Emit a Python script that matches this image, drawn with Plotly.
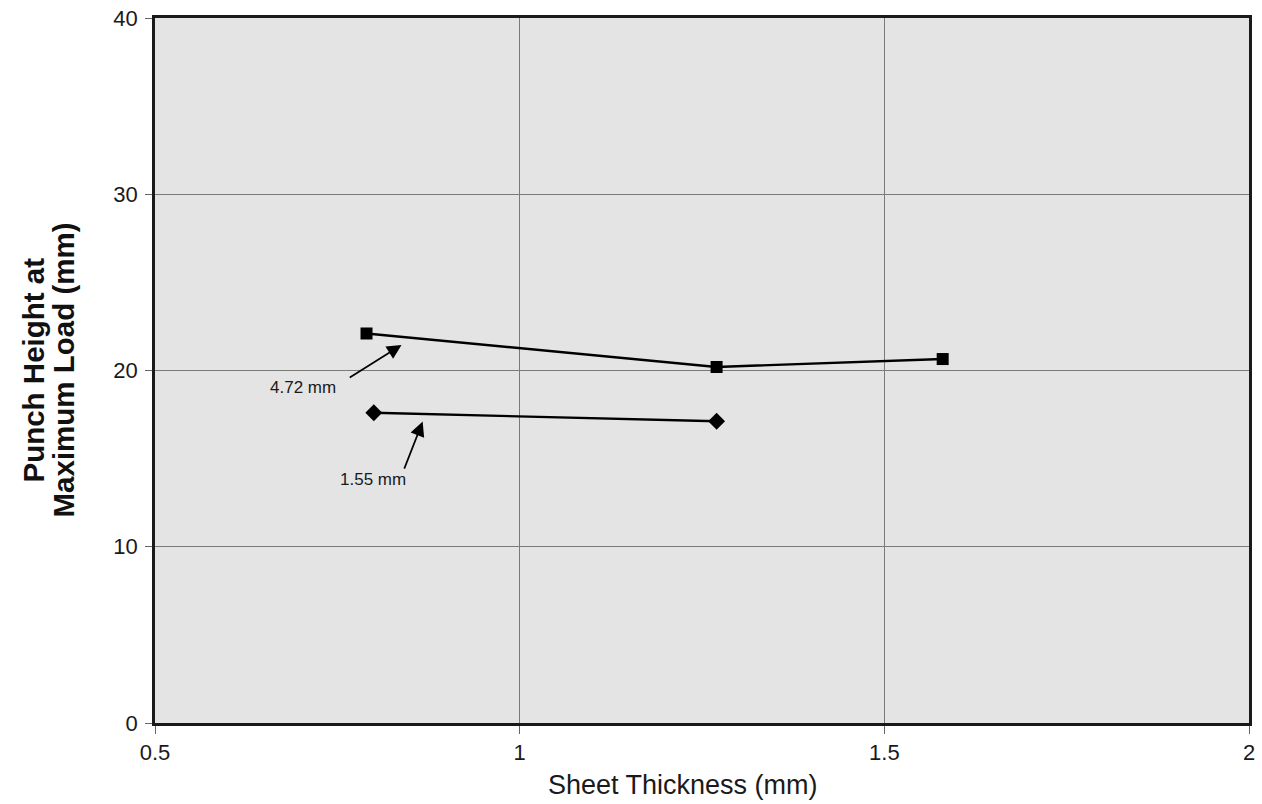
import plotly.graph_objects as go

# Data
thickness_472 = [0.79, 1.27, 1.58]
height_472 = [22.1, 20.2, 20.65]
thickness_155 = [0.80, 1.27]
height_155 = [17.6, 17.12]

x_ticks = [0.5, 1, 1.5, 2]
x_tick_labels = ["0.5", "1", "1.5", "2"]
y_ticks = [0, 10, 20, 30, 40]

FONT = "Liberation Sans, Arial, sans-serif"
TXT = "#1a1a1a"

fig = go.Figure()
fig.add_trace(go.Scatter(
    x=thickness_472, y=height_472, mode="lines+markers",
    line=dict(color="black", width=2.4),
    marker=dict(symbol="square", size=12, color="black"),
    name="4.72 mm", showlegend=False,
))
fig.add_trace(go.Scatter(
    x=thickness_155, y=height_155, mode="lines+markers",
    line=dict(color="black", width=2.4),
    marker=dict(symbol="diamond", size=13, color="black"),
    name="1.55 mm", showlegend=False,
))

# arrows and labels
fig.add_annotation(x=0.838, y=21.45, ax=0.765, ay=19.55, xref="x", yref="y",
                   axref="x", ayref="y", text="", showarrow=True,
                   arrowhead=2, arrowsize=1.7, arrowwidth=1.7, arrowcolor="black")
fig.add_annotation(x=0.703, y=19.05, xref="x", yref="y", text="4.72 mm",
                   showarrow=False, font=dict(family=FONT, size=17, color=TXT))
fig.add_annotation(x=0.867, y=17.1, ax=0.841, ay=14.35, xref="x", yref="y",
                   axref="x", ayref="y", text="", showarrow=True,
                   arrowhead=2, arrowsize=1.7, arrowwidth=1.7, arrowcolor="black")
fig.add_annotation(x=0.799, y=13.8, xref="x", yref="y", text="1.55 mm",
                   showarrow=False, font=dict(family=FONT, size=17, color=TXT))

# axis titles
fig.add_annotation(x=0.483, y=0, xref="paper", yref="paper", yanchor="middle",
                   yshift=-62, text="Sheet Thickness (mm)", showarrow=False,
                   font=dict(family=FONT, size=27, color=TXT))
fig.add_annotation(x=0, y=0.5, xref="paper", yref="paper", xanchor="center",
                   yanchor="middle", xshift=-122, textangle=-90,
                   text="<b>Punch Height at</b>", showarrow=False,
                   font=dict(family=FONT, size=29.5, color="#111"))
fig.add_annotation(x=0, y=0.5, xref="paper", yref="paper", xanchor="center",
                   yanchor="middle", xshift=-92, textangle=-90,
                   text="<b>Maximum Load (mm)</b>", showarrow=False,
                   font=dict(family=FONT, size=29.5, color="#111"))

fig.update_layout(
    width=1262, height=804,
    margin=dict(l=155, r=13, t=18, b=81),
    paper_bgcolor="white",
    plot_bgcolor="#e4e4e4",
    font=dict(family=FONT, color=TXT),
    xaxis=dict(
        range=[0.5, 2], tickvals=x_ticks, ticktext=x_tick_labels,
        showgrid=True, gridcolor="#7a7a7a", gridwidth=1,
        showline=True, linecolor="#1a1a1a", linewidth=2.5, mirror=True,
        ticks="outside", ticklen=8, tickcolor="#666",
        tickfont=dict(size=22, family=FONT, color=TXT),
        zeroline=False, automargin=False,
    ),
    yaxis=dict(
        range=[0, 40], tickvals=y_ticks,
        showgrid=True, gridcolor="#7a7a7a", gridwidth=1,
        showline=True, linecolor="#1a1a1a", linewidth=2.5, mirror=True,
        ticks="outside", ticklen=7, tickcolor="#666",
        tickfont=dict(size=22, family=FONT, color=TXT),
        ticklabelstandoff=3,
        zeroline=False, automargin=False,
    ),
)

fig.write_html("out.html", config={"displayModeBar": False},
               post_script="document.body.style.margin='0px';")
